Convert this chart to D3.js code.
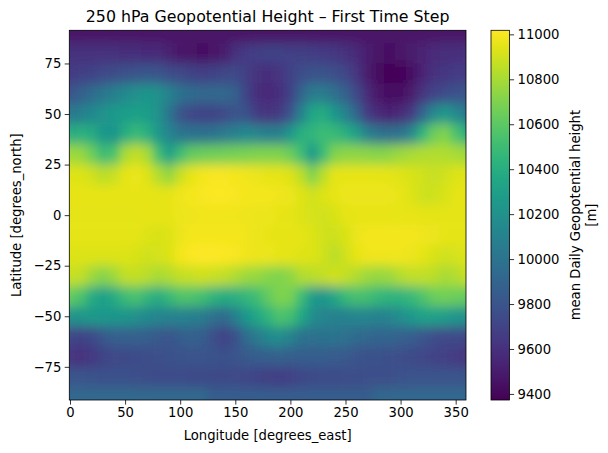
<!DOCTYPE html>
<html>
<head>
<meta charset="utf-8">
<script src="https://cdn.jsdelivr.net/npm/d3@7"></script>
<style>
body{margin:0;background:#fff;}
text{font-family:"DejaVu Sans",sans-serif;fill:#000;}
</style>
</head>
<body>
<svg id="chart" width="608" height="453"></svg>
<script>
// grid: 10 deg longitude x 10 deg latitude, values in metres
var lons=[0,10,20,30,40,50,60,70,80,90,100,110,120,130,140,150,160,170,180,190,200,210,220,230,240,250,260,270,280,290,300,310,320,330,340,350];
var lats=[90,80,70,60,50,40,30,20,10,0,-10,-20,-30,-40,-50,-60,-70,-80,-90];

var latN90=[9460,9460,9460,9460,9460,9460,9460,9460,9460,9460,9460,9460,9460,9460,9460,9460,9460,9460,9460,9460,9460,9460,9460,9460,9460,9460,9460,9460,9460,9460,9460,9460,9460,9460,9460,9460];
var latN80=[9600,9600,9610,9610,9600,9590,9580,9570,9560,9520,9480,9460,9450,9460,9500,9600,9660,9690,9700,9700,9690,9680,9670,9660,9640,9600,9560,9500,9460,9450,9460,9490,9530,9560,9580,9590];
var latN70=[9660,9680,9700,9730,9760,9780,9800,9810,9800,9760,9730,9700,9690,9700,9720,9730,9680,9600,9590,9620,9700,9760,9790,9790,9770,9720,9620,9500,9420,9390,9390,9440,9540,9600,9630,9650];
var latN60=[9800,9880,9950,10020,10080,10150,10200,10230,10200,10100,10000,9950,9930,9930,9930,9880,9700,9580,9560,9580,9700,9900,10050,10050,9980,9880,9730,9560,9470,9450,9450,9490,9620,9700,9750,9780];
var latN50=[10030,10080,10150,10220,10260,10280,10300,10280,10200,10000,9800,9720,9700,9700,9730,9800,9780,9650,9620,9660,9800,10100,10350,10380,10250,10100,9900,9650,9560,9540,9560,9650,9900,10150,10250,10150];
var latN40=[10400,10420,10380,10250,10230,10400,10480,10420,10250,10120,10020,9990,9990,10000,10050,10100,10150,10120,10080,10100,10250,10420,10450,10500,10480,10420,10300,10100,10000,9980,10000,10150,10450,10650,10700,10550];
var latN30=[10780,10760,10650,10500,10560,10800,10870,10800,10520,10320,10500,10620,10650,10660,10670,10680,10690,10700,10700,10700,10650,10500,10250,10500,10700,10740,10740,10730,10720,10740,10780,10800,10820,10830,10820,10800];
var latN20=[10940,10930,10900,10850,10880,10950,10970,10930,10830,10750,10880,10960,10990,11000,11000,10990,10980,10970,10960,10950,10930,10850,10700,10850,10950,10960,10960,10960,10960,10950,10940,10920,10900,10880,10900,10930];
var latN10=[10960,10960,10960,10960,10960,10960,10960,10960,10950,10950,10980,10990,11000,11010,11010,11000,10990,10990,10990,10980,10970,10940,10900,10930,10960,10970,10970,10970,10970,10970,10960,10930,10890,10890,10920,10950];
var lat0=[10950,10950,10950,10950,10950,10950,10950,10960,10960,10960,10970,10975,10980,10985,10985,10980,10975,10970,10970,10960,10950,10930,10910,10900,10920,10950,10960,10960,10960,10960,10960,10960,10950,10950,10950,10950];
var latS10=[10950,10950,10950,10950,10950,10950,10950,10930,10920,10930,10970,10990,10990,10990,10990,10990,10980,10970,10960,10960,10960,10950,10930,10900,10890,10920,10970,10990,10990,10990,10990,10990,10980,10970,10960,10950];
var latS20=[10930,10930,10930,10930,10930,10930,10920,10900,10910,10930,10990,11010,11015,11015,11010,11000,10980,10970,10970,10960,10950,10940,10930,10900,10850,10900,10960,10980,10980,10980,10980,10970,10950,10920,10900,10910];
var latS30=[10880,10860,10780,10720,10780,10860,10870,10840,10800,10830,10870,10880,10890,10880,10860,10820,10780,10760,10720,10700,10740,10820,10840,10870,10900,10870,10820,10780,10760,10780,10830,10860,10860,10850,10800,10830];
var latS40=[10620,10550,10380,10300,10380,10500,10540,10460,10400,10480,10560,10560,10520,10440,10400,10420,10460,10520,10620,10700,10680,10500,10280,10250,10350,10480,10530,10520,10470,10440,10440,10480,10560,10640,10660,10650];
var latS50=[10220,10240,10260,10250,10240,10230,10200,10150,10120,10110,10100,10080,10050,9980,9950,10080,10250,10350,10450,10550,10520,10360,10180,10120,10100,10100,10120,10120,10100,10120,10180,10250,10300,10300,10280,10240];
var latS60=[9720,9700,9740,9820,9870,9880,9880,9860,9830,9800,9850,9870,9850,9770,9700,9780,9950,10050,10150,10180,10100,10000,9980,9990,10000,9980,9940,9920,9900,9900,9880,9850,9800,9760,9730,9740];
var latS70=[9620,9600,9640,9700,9730,9740,9750,9760,9770,9780,9790,9800,9800,9790,9780,9800,9830,9850,9860,9870,9860,9850,9850,9850,9840,9830,9800,9780,9780,9770,9760,9740,9720,9700,9680,9650];
var latS80=[9800,9800,9790,9780,9780,9780,9770,9760,9750,9750,9750,9740,9740,9740,9740,9730,9720,9700,9680,9670,9690,9720,9740,9750,9750,9760,9760,9770,9770,9770,9780,9790,9790,9790,9790,9790];
var latS90=[9930,9930,9930,9930,9930,9930,9930,9930,9930,9930,9930,9930,9930,9850,9850,9850,9850,9850,9850,9850,9850,9850,9850,9850,9850,9850,9850,9850,9920,9920,9920,9920,9920,9920,9920,9920];

var rows=[latN90,latN80,latN70,latN60,latN50,latN40,latN30,latN20,latN10,lat0,latS10,latS20,latS30,latS40,latS50,latS60,latS70,latS80,latS90];

var lonTicks=[0,50,100,150,200,250,300,350];
var latTicks=[-75,-50,-25,0,25,50,75];
var cbTicks=[9400,9600,9800,10000,10200,10400,10600,10800,11000];

var svg=d3.select("#chart");
var pLeft=69.3,pRight=466,pTop=30.3,pBottom=400;

var x=d3.scaleLinear().domain([-0.64,359.36]).range([pLeft,pRight]);
var y=d3.scaleLinear().domain([-91.4,91.4]).range([pBottom,pTop]);
var color=d3.scaleSequential(d3.interpolateViridis).domain([9373,11018]);

var defs=svg.append("defs");
defs.append("clipPath").attr("id","plotclip")
	.append("rect").attr("x",pLeft).attr("y",pTop).attr("width",pRight-pLeft).attr("height",pBottom-pTop);
defs.append("filter").attr("id","smooth")
	.attr("filterUnits","userSpaceOnUse")
	.attr("x",0).attr("y",0).attr("width",608).attr("height",453)
	.append("feGaussianBlur").attr("stdDeviation","4 6");

// cells, repeated one period left and right so the blur wraps
var cells=[];
rows.forEach(function(r,i){
	r.forEach(function(v,j){
		[-360,0,360].forEach(function(off){
			cells.push({lon:lons[j]+off,lat:lats[i],v:v});
		});
	});
});

var plot=svg.append("g").attr("clip-path","url(#plotclip)")
	.append("g").attr("filter","url(#smooth)");
plot.selectAll("rect").data(cells).enter().append("rect")
	.attr("x",function(d){return x(d.lon-5);})
	.attr("width",function(d){return x(d.lon+5)-x(d.lon-5)+0.6;})
	.attr("y",function(d){return y(d.lat==90?120:d.lat+5);})
	.attr("height",function(d){
		var t=d.lat==90?120:d.lat+5, b=d.lat==-90?-120:d.lat-5;
		return y(b)-y(t)+0.6;})
	.attr("fill",function(d){return color(d.v);});

svg.append("rect").attr("x",pLeft).attr("y",pTop).attr("width",pRight-pLeft).attr("height",pBottom-pTop)
	.attr("fill","none").attr("stroke","#000").attr("stroke-width",0.8);

var xAxis=svg.append("g").attr("transform","translate(0,"+pBottom+")")
	.call(d3.axisBottom(x).tickValues(lonTicks).tickSize(4.6).tickPadding(3.4));
var yAxis=svg.append("g").attr("transform","translate("+pLeft+",0)")
	.call(d3.axisLeft(y).tickValues(latTicks).tickSize(4.6).tickPadding(3.4).tickFormat(function(d){return d<0?"\u2212"+(-d):d;}));
[xAxis,yAxis].forEach(function(a){
	a.select(".domain").remove();
	a.selectAll("line").attr("stroke","#000").attr("stroke-width",0.8);
	a.selectAll("text").style("font-size","13.2px").style("font-family","DejaVu Sans");
});

svg.append("text").attr("x",(pLeft+pRight)/2).attr("y",21.5).attr("text-anchor","middle")
	.style("font-size","15.8px").text("250 hPa Geopotential Height \u2013 First Time Step");
svg.append("text").attr("x",(pLeft+pRight)/2).attr("y",440).attr("text-anchor","middle")
	.style("font-size","13.2px").text("Longitude [degrees_east]");
svg.append("text").attr("transform","translate(21,"+((pTop+pBottom)/2)+") rotate(-90)").attr("text-anchor","middle")
	.style("font-size","13.2px").text("Latitude [degrees_north]");

// colour bar
var cbX=491,cbW=18.5;
var cy=d3.scaleLinear().domain([9373,11018]).range([pBottom,pTop]);
var grad=defs.append("linearGradient").attr("id","cbgrad").attr("x1",0).attr("y1",1).attr("x2",0).attr("y2",0);
d3.range(0,1.0001,0.05).forEach(function(t){
	grad.append("stop").attr("offset",t).attr("stop-color",d3.interpolateViridis(t));
});
svg.append("rect").attr("x",cbX).attr("y",pTop).attr("width",cbW).attr("height",pBottom-pTop)
	.attr("fill","url(#cbgrad)").attr("stroke","#000").attr("stroke-width",0.8);
var cAxis=svg.append("g").attr("transform","translate("+(cbX+cbW)+",0)")
	.call(d3.axisRight(cy).tickValues(cbTicks).tickSize(4.6).tickPadding(3.4).tickFormat(d3.format("d")));
cAxis.select(".domain").remove();
cAxis.selectAll("line").attr("stroke","#000").attr("stroke-width",0.8);
cAxis.selectAll("text").style("font-size","13.2px").style("font-family","DejaVu Sans");

svg.append("text").attr("transform","translate(580,"+((pTop+pBottom)/2)+") rotate(-90)").attr("text-anchor","middle")
	.style("font-size","13.2px").text("mean Daily Geopotential height");
svg.append("text").attr("transform","translate(595.5,"+((pTop+pBottom)/2)+") rotate(-90)").attr("text-anchor","middle")
	.style("font-size","13.2px").text("[m]");
</script>
</body>
</html>
